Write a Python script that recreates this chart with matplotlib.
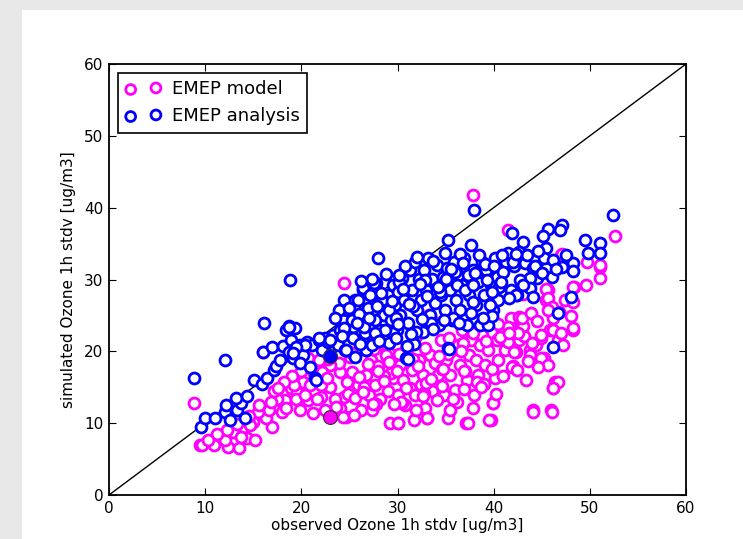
import numpy as np
import matplotlib
matplotlib.use('Agg')
import matplotlib.pyplot as plt
from matplotlib.patches import Rectangle

# EMEP model (magenta)
model_obs = [
    8.8, 9.5, 10.9, 11.8, 12.4, 13.5, 13.1, 14.4, 15.2, 14.0, 15.0, 15.9, 17.0, 16.3,
    17.1, 18.0, 18.3, 18.9, 19.6, 19.9, 20.7, 21.2, 22.0, 23.0, 22.0, 21.3, 24.0, 23.9,
    23.0, 24.0, 24.6, 24.4, 20.2, 19.2, 20.7, 16.0, 24.4, 9.7, 12.1, 12.9, 13.7, 14.7,
    15.5, 16.6, 17.5, 17.2, 18.4, 19.4, 20.4, 20.9, 21.6, 22.2, 22.5, 23.5, 24.3,
    24.9, 25.3, 25.6, 25.9, 26.2, 26.7, 27.0, 27.2, 27.4, 27.7, 28.0, 28.2, 28.5, 28.8,
    29.0, 29.2, 29.5, 29.8, 30.0, 30.1, 30.3, 30.6, 30.8, 31.0, 31.3, 31.5, 31.8, 32.2,
    32.4, 32.7, 32.9, 33.1, 33.4, 33.6, 33.9, 34.2, 34.5, 34.8, 35.0, 35.3, 35.5, 35.7,
    36.0, 36.3, 36.5, 36.7, 37.1, 37.2, 37.4, 37.6, 37.8, 38.0, 38.2, 38.4, 38.6, 38.8,
    39.1, 39.4, 39.7, 39.9, 40.1, 40.3, 40.5, 40.9, 41.2, 41.5, 41.8, 42.0, 42.3, 42.6,
    42.8, 43.0, 43.2, 43.4, 43.8, 44.1, 44.4, 44.9, 45.2, 45.4, 45.6, 45.9, 46.0, 46.2,
    46.4, 46.6, 46.8, 47.0, 47.4, 48.2, 48.4, 49.6, 51.1, 51.1, 52.6, 46.7, 47.2,
    47.1, 49.7, 51.1, 48.3, 45.4, 45.6, 46.1, 48.2, 42.6, 43.1, 41.5, 46.2, 48.2, 46.2,
    42.5, 44.9, 41.5, 44.0, 42.1, 43.8, 44.9, 45.7, 41.9, 46.7, 46.2, 44.1, 46.1,
    37.3, 39.9, 39.5, 35.5, 31.7, 33.1, 34.1, 30.5, 30.0, 26.5, 27.8, 29.3, 31.2,
    32.8, 34.6, 36.2, 38.3, 25.1, 26.0, 28.0, 30.4, 33.0, 35.2, 37.0, 39.0, 40.7,
    22.8, 24.7, 26.3, 28.6, 31.9, 34.0, 36.8, 38.9, 27.3, 29.9, 33.3, 35.9,
    23.6, 24.8, 25.5, 26.4, 27.5, 28.6, 29.6, 30.9, 31.9, 32.6, 33.5, 34.6, 35.8, 36.9,
    37.9, 38.7, 40.2, 41.0, 42.4, 43.6, 44.6, 26.9, 28.0, 29.1, 30.2, 31.6, 32.9, 34.3,
    35.4, 36.6, 37.9, 39.2, 40.4, 41.6, 42.9, 43.9, 44.5, 45.6, 47.0, 48.0, 25.3, 27.6,
    29.9, 32.1, 34.7, 36.9, 39.8, 22.7, 21.8, 20.0, 19.0, 18.2, 17.6, 16.8, 15.6, 14.6,
    13.3, 12.3, 11.2, 10.3,
]
model_sim = [
    12.8, 7.0, 7.0, 8.1, 6.7, 6.5, 8.8, 7.9, 7.7, 9.5, 10.2, 11.4, 9.5, 10.7,
    12.3, 11.6, 13.2, 14.9, 14.3, 11.8, 13.2, 11.4, 13.6, 15.0, 15.3, 17.0, 17.1, 18.4,
    18.1, 12.1, 10.9, 13.6, 15.7, 15.3, 19.1, 19.9, 29.5, 7.0, 7.7, 8.8, 8.1, 9.8,
    11.6, 11.8, 13.3, 14.5, 12.1, 13.3, 13.9, 15.3, 13.3, 17.1, 11.8, 13.3, 10.9,
    14.1, 17.1, 13.5, 15.3, 11.8, 16.7, 13.9, 18.8, 11.8, 15.3, 20.9, 13.3, 17.4, 19.5,
    14.5, 10.0, 16.3, 20.9, 10.0, 13.9, 18.1, 16.0, 12.5, 20.2, 14.9, 17.4, 13.9, 18.8,
    15.3, 16.7, 12.1, 10.7, 19.5, 14.5, 18.4, 16.7, 21.6, 13.9, 18.8, 10.7, 16.7, 20.2,
    14.6, 20.9, 18.1, 23.0, 10.0, 16.0, 19.5, 21.6, 41.7, 13.9, 18.8, 16.7, 20.9, 22.3,
    18.1, 20.2, 10.4, 12.8, 16.3, 21.6, 18.8, 23.0, 20.2, 36.9, 24.6, 18.0, 19.9, 21.6,
    23.7, 28.0, 22.1, 16.0, 20.2, 11.8, 20.9, 21.9, 19.1, 27.2, 28.6, 23.0, 11.8, 14.9,
    15.7, 32.0, 25.5, 33.4, 27.2, 23.0, 29.0, 29.2, 30.2, 31.8, 36.1, 21.6, 20.9,
    33.6, 32.5, 32.0, 29.0, 28.7, 27.4, 26.2, 26.9, 24.8, 23.5, 23.4, 24.7, 23.3, 23.0,
    22.6, 22.3, 21.3, 21.2, 19.9, 19.5, 19.1, 18.1, 17.8, 15.7, 14.9, 11.6, 11.6,
    10.0, 12.8, 10.4, 11.8, 10.4, 10.7, 13.2, 12.8, 10.0, 15.0, 12.6, 17.0, 19.0,
    14.2, 17.6, 13.0, 15.8, 19.2, 16.4, 18.0, 12.9, 15.6, 19.6, 17.3, 15.5, 22.0,
    18.9, 20.0, 20.3, 16.6, 22.1, 24.0, 21.2, 24.3, 22.4, 23.9, 25.1, 24.4,
    12.2, 15.8, 11.1, 14.4, 12.6, 15.9, 12.7, 14.9, 11.9, 13.8, 16.1, 15.2, 13.4, 14.8,
    12.1, 15.0, 14.0, 16.5, 17.4, 18.7, 17.8, 18.2, 17.3, 18.5, 19.6, 19.0, 20.4, 19.4,
    21.8, 20.0, 22.6, 21.5, 23.8, 22.6, 24.7, 25.3, 24.2, 25.8, 22.6, 24.9, 19.7, 20.3,
    17.2, 17.9, 17.6, 17.2, 17.5, 16.3, 18.8, 17.3, 16.6, 15.8, 14.9, 13.0, 12.5, 11.0,
    9.9, 9.0, 8.5, 7.7,
]

# EMEP analysis (blue)
anal_obs = [
    8.8, 12.1, 9.6, 10.0, 11.0, 12.1, 12.6, 13.3, 13.7, 13.2, 14.3, 14.1, 12.2, 15.1,
    15.9, 16.0, 16.4, 17.2, 17.0, 17.4, 17.8, 18.1, 18.4, 18.8, 16.1, 18.7, 19.3, 18.9,
    18.7, 19.1, 19.5, 19.9, 20.2, 20.6, 21.1, 21.4, 21.8, 22.2, 22.5, 22.8, 23.3, 23.8,
    24.0, 24.4, 24.5, 24.8, 25.1, 25.4, 25.6, 25.9, 26.2, 26.4, 26.6, 26.8, 27.0, 27.2,
    27.4, 27.6, 27.8, 28.0, 28.2, 28.4, 28.6, 28.8, 29.0, 29.3, 29.5, 29.7, 29.9, 30.1,
    30.3, 30.5, 30.7, 30.9, 31.1, 31.3, 31.5, 31.8, 32.0, 32.2, 32.4, 32.6, 32.8, 33.0,
    33.2, 33.4, 33.6, 33.9, 34.1, 34.3, 34.5, 34.7, 34.9, 35.1, 35.3, 35.3, 35.5, 35.7,
    35.9, 36.1, 36.3, 36.5, 36.7, 36.9, 37.2, 37.4, 37.6, 37.8, 38.0, 38.2, 38.4, 38.6,
    38.8, 39.0, 39.2, 39.4, 39.7, 39.9, 40.1, 40.3, 40.5, 41.3, 41.8, 42.1, 42.4,
    44.5, 45.4, 24.4, 26.4, 27.6, 25.9, 23.9, 23.5, 25.3, 26.9, 28.4, 29.1, 29.8, 27.7,
    26.5, 24.4, 23.0, 21.8, 20.4, 19.4, 18.7, 19.1, 19.9, 20.9, 21.5, 24.6, 25.6, 26.7,
    27.4, 29.1, 29.5, 28.7, 27.7, 25.4, 52.4, 47.1, 46.9, 45.7, 45.1, 41.9, 49.5, 51.1,
    43.0, 45.4, 42.6, 49.8, 51.1, 41.5, 45.2, 46.2, 42.0, 43.3, 44.1, 47.1, 48.3, 48.3,
    46.1, 43.8, 43.8, 42.3, 44.1, 48.0, 46.7, 46.2, 31.1, 31.7, 35.4, 31.9,
    30.2, 31.6, 32.9, 34.4, 36.0, 37.3, 39.1, 40.6, 33.5, 35.8, 37.9, 39.8,
    25.0, 26.0, 27.1, 28.3, 29.4, 30.6, 31.2, 32.3, 33.1, 34.2, 35.0, 36.2, 37.0, 38.1,
    39.3, 40.0, 41.0, 42.7, 43.5, 44.3, 45.0, 46.5, 47.5, 30.0, 31.4, 32.5, 33.7, 34.8,
    36.4, 37.6, 38.9, 39.8, 40.8, 41.6, 24.2, 25.8, 27.0, 28.1, 29.8, 31.0, 26.1, 27.9,
    30.8, 32.0, 33.7, 34.9, 36.5, 38.5, 40.9, 42.3, 44.6, 36.8, 35.6, 37.9, 39.6, 43.0,
    28.8, 30.2, 27.3, 26.2,
]
anal_sim = [
    16.3, 18.8, 9.5, 10.7, 10.7, 11.6, 10.4, 11.8, 12.8, 13.5, 13.8, 10.7, 12.5, 16.0,
    15.5, 19.9, 16.3, 17.4, 20.6, 17.9, 18.8, 20.7, 23.0, 29.9, 24.0, 23.5, 23.3, 21.6,
    19.9, 19.1, 20.3, 20.9, 19.5, 21.3, 20.9, 16.3, 21.6, 20.2, 21.9, 21.3, 22.3, 20.9,
    23.0, 24.4, 20.2, 25.8, 22.7, 23.4, 27.2, 21.6, 24.7, 28.6, 22.6, 26.7, 20.8, 23.7,
    25.5, 28.6, 29.5, 33.0, 23.0, 27.2, 25.1, 22.3, 27.8, 24.4, 29.2, 26.4, 23.0, 28.2,
    25.1, 30.2, 27.2, 19.1, 24.0, 31.3, 28.6, 32.5, 25.8, 30.1, 27.2, 22.7, 31.3, 28.6,
    33.0, 25.1, 30.1, 26.7, 32.0, 23.7, 27.9, 30.3, 25.8, 31.6, 35.5, 20.5, 28.6, 24.4,
    32.5, 27.2, 30.6, 25.8, 29.2, 33.0, 23.7, 27.9, 34.8, 31.3, 39.7, 26.4, 29.7, 23.7,
    32.5, 27.9, 31.3, 23.7, 29.2, 25.8, 33.0, 30.3, 27.2, 32.5, 28.6, 31.9, 27.8,
    30.2, 31.6, 27.2, 28.8, 29.5, 27.2, 25.8, 24.7, 24.4, 26.0, 27.2, 25.8, 24.7, 24.4,
    23.4, 23.3, 21.6, 21.9, 20.9, 20.6, 23.4, 19.8, 18.4, 17.8, 16.0, 20.2, 19.2, 20.2,
    20.9, 21.2, 22.6, 23.0, 22.6, 21.9, 39.0, 37.6, 36.9, 37.0, 36.1, 36.5, 35.5, 35.1,
    35.2, 34.4, 33.8, 33.7, 33.7, 33.7, 33.0, 32.7, 32.5, 32.3, 31.6, 31.8, 32.3, 31.2,
    30.4, 30.2, 28.8, 27.9, 27.6, 27.6, 25.3, 20.6, 18.9, 21.0, 20.3, 22.7,
    29.6, 26.3, 29.9, 28.3, 31.0, 30.6, 32.1, 29.0, 23.9, 24.6, 26.9, 24.9,
    26.0, 25.2, 27.9, 28.1, 27.0, 28.7, 26.6, 29.4, 27.7, 29.0, 30.1, 29.3, 28.5, 30.9,
    30.0, 31.9, 31.0, 30.0, 33.4, 31.9, 30.9, 31.4, 33.4, 23.8, 22.4, 24.5, 23.1, 24.4,
    24.0, 25.3, 24.6, 28.3, 29.6, 27.4, 22.1, 23.9, 24.6, 21.5, 21.9, 20.7, 21.0, 26.3,
    31.9, 33.1, 32.6, 33.7, 33.5, 33.4, 33.4, 33.6, 33.9, 32.3, 31.4, 29.2, 26.5, 29.2,
    30.7, 30.6, 30.1, 29.8,
]

# highlighted station
hl_obs = 23.0
hl_model = 10.9
hl_anal = 19.4

fig = plt.figure(figsize=(7.43, 5.39), dpi=100)
fig.patch.set_facecolor('#e8e8e8')
fig.patches.append(Rectangle((22 / 743, 0), 1, 1 - 10 / 539, transform=fig.transFigure,
                             facecolor='white', edgecolor='none', zorder=-10))

ax = fig.add_axes([109 / 743, 1 - 495 / 539, (686 - 109) / 743, (495 - 64) / 539])

ax.plot([0, 60], [0, 60], color='black', lw=1, zorder=1)
ax.scatter(model_obs, model_sim, s=62, facecolors='white', edgecolors='magenta',
           linewidths=2, label='EMEP model', zorder=2)
ax.scatter(anal_obs, anal_sim, s=62, facecolors='white', edgecolors='blue',
           linewidths=2, label='EMEP analysis', zorder=3)
ax.scatter([hl_obs], [hl_model], s=100, color='magenta', edgecolors='#333333',
           linewidths=0.8, zorder=4)
ax.scatter([hl_obs], [hl_anal], s=100, color='blue', edgecolors='#333333',
           linewidths=0.8, zorder=4)

ax.set_xlim(0, 60)
ax.set_ylim(0, 60)
ax.set_xticks(range(0, 61, 10))
ax.set_yticks(range(0, 61, 10))
ax.tick_params(direction='in', top=True, right=True, length=5, labelsize=11, pad=4)
for s in ax.spines.values():
    s.set_linewidth(1.3)
ax.set_xlabel('observed Ozone 1h stdv [ug/m3]', fontsize=11, labelpad=2)
ax.set_ylabel('simulated Ozone 1h stdv [ug/m3]', fontsize=11, labelpad=6)

leg = ax.legend(loc='upper left', scatterpoints=2, fontsize=13, fancybox=False,
                framealpha=1, edgecolor='black', markerscale=0.9,
                borderaxespad=0.5, handletextpad=0.6)
leg.get_frame().set_linewidth(1.2)

fig.savefig('out.png', dpi=100, facecolor=fig.get_facecolor())
